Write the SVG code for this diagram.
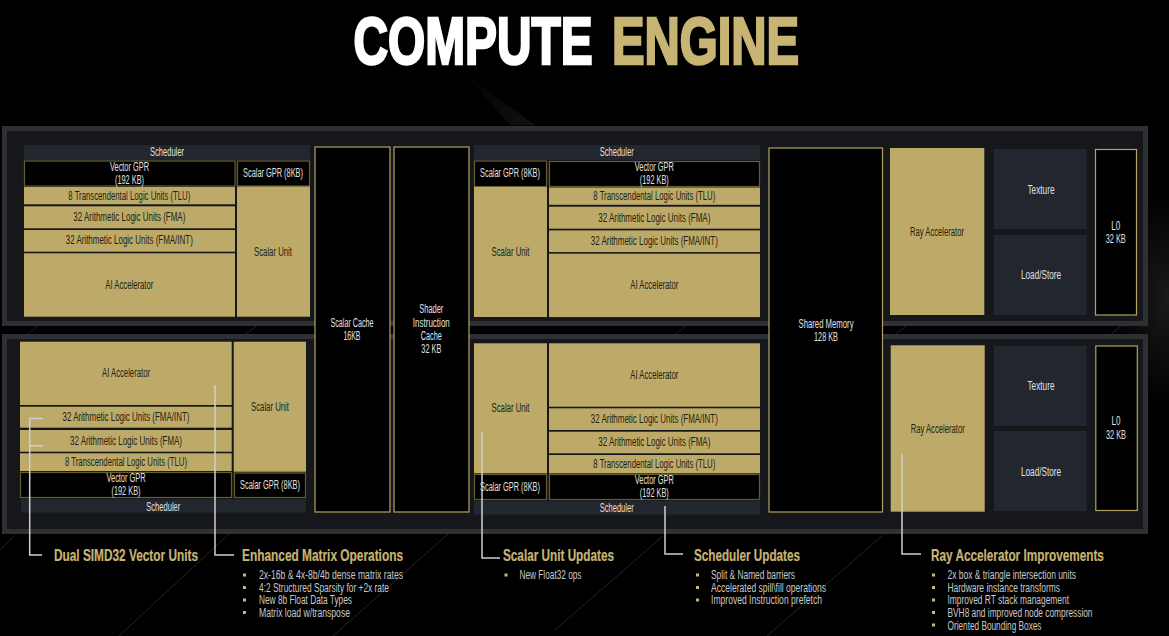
<svg xmlns="http://www.w3.org/2000/svg" width="1169" height="636" viewBox="0 0 1169 636">
<style>
text{font-family:"Liberation Sans Narrow","Liberation Sans",Roboto,sans-serif;font-size:12px;dominant-baseline:central;text-anchor:middle}
.panel{fill:#15171a;stroke:#2e3036;stroke-width:5}
.gold{fill:#bdaa69}
.gold+text,.dk{fill:#221f12}
.mem{fill:#000;stroke:#b3a263;stroke-width:1.2}
.gpr{fill:#000;stroke:#675c30;stroke-width:1.2}
.sch{fill:#22262e}
.lt{fill:#e0e0e0}
.head{font-size:16.500px;font-weight:700;fill:#c8b473;text-anchor:start;stroke:#c8b473;stroke-width:.2}
.li{font-size:12px;fill:#c9c9c9;text-anchor:start}
.bul{fill:#c8b473}
.title{font-size:66px;font-weight:700;text-anchor:start;stroke-width:2.6;stroke-linejoin:miter}
.st{fill:none;stroke:#242424;stroke-width:1}
.con{fill:none;stroke:#d0d0d0;stroke-width:1.5}
</style>
<defs>
<linearGradient id="wedge" x1="0" y1="0" x2="1" y2="1"><stop offset="0" stop-color="#000"/><stop offset="1" stop-color="#111"/></linearGradient>
<radialGradient id="glow"><stop offset="0" stop-color="#1a1a1a"/><stop offset="1" stop-color="#000"/></radialGradient>
</defs>
<rect width="1169" height="636" fill="#000"/>
<g id="background">
<path d="M464 73L510 125H535Z" fill="url(#wedge)"/>
<ellipse cx="1169" cy="300" rx="60" ry="110" fill="url(#glow)"/>
<path class="st" d="M38 326L28 334M256 326L246 334M686 326L676 334M906 326L896 334M1121 326L1111 334M15 535L0 550M230 533L119 636M448 534L333 636M663 536L555 630M883 535L767 636"/>
</g>
<g id="title">
<text class="title" transform="translate(353.500 41) scale(.8 1)" fill="#fff" stroke="#fff" textLength="299" lengthAdjust="spacingAndGlyphs">COMPUTE</text>
<text class="title" transform="translate(612 41) scale(.8 1)" fill="#c8b473" stroke="#c8b473" textLength="234" lengthAdjust="spacingAndGlyphs">ENGINE</text>
</g>
<g id="panels">
<rect id="panel-top" class="panel" x="4.500" y="128.500" width="1141" height="195"/>
<rect id="panel-bottom" class="panel" x="4.500" y="336.500" width="1141" height="195"/>
</g>
<g id="tl-scheduler"><rect class="sch" x="24" y="145" width="286" height="15"/><text class="lt" x="167" y="151.700" textLength="34" lengthAdjust="spacingAndGlyphs">Scheduler</text></g>
<g id="tl-vgpr"><rect class="gpr" x="24.500" y="161" width="210.500" height="25"/><text class="lt" x="129.500" y="166.700" textLength="39" lengthAdjust="spacingAndGlyphs">Vector GPR</text><text class="lt" x="129.500" y="180" textLength="29" lengthAdjust="spacingAndGlyphs">(192 KB)</text></g>
<g id="tl-sgpr"><rect class="gpr" x="237.500" y="161" width="72" height="25"/><text class="lt" x="273" y="173.300" textLength="60" lengthAdjust="spacingAndGlyphs">Scalar GPR (8KB)</text></g>
<g id="tl-tlu"><rect class="gold" x="24" y="187" width="211" height="17.300"/><text x="129.300" y="195.700" textLength="122" lengthAdjust="spacingAndGlyphs">8 Transcendental Logic Units (TLU)</text></g>
<g id="tl-fma"><rect class="gold" x="24" y="206.300" width="211" height="22"/><text x="129.300" y="217" textLength="112" lengthAdjust="spacingAndGlyphs">32 Arithmetic Logic Units (FMA)</text></g>
<g id="tl-int"><rect class="gold" x="24" y="230" width="211" height="21.700"/><text x="129.300" y="240.300" textLength="127" lengthAdjust="spacingAndGlyphs">32 Arithmetic Logic Units (FMA/INT)</text></g>
<g id="tl-ai"><rect class="gold" x="24" y="253.300" width="211" height="63.400"/><text x="129.300" y="285" textLength="48" lengthAdjust="spacingAndGlyphs">AI Accelerator</text></g>
<g id="tl-scalar"><rect class="gold" x="237" y="186.500" width="73" height="130.200"/><text x="273" y="252" textLength="38" lengthAdjust="spacingAndGlyphs">Scalar Unit</text></g>
<g id="scalar-cache"><rect class="mem" x="315" y="147" width="75" height="365"/><text class="lt" x="352" y="323" textLength="43" lengthAdjust="spacingAndGlyphs">Scalar Cache</text><text class="lt" x="352" y="336" textLength="17" lengthAdjust="spacingAndGlyphs">16KB</text></g>
<g id="shader-cache"><rect class="mem" x="394" y="147" width="75" height="365"/><text class="lt" x="431.300" y="309" textLength="24" lengthAdjust="spacingAndGlyphs">Shader</text><text class="lt" x="431.300" y="322.700" textLength="37" lengthAdjust="spacingAndGlyphs">Instruction</text><text class="lt" x="431.300" y="336" textLength="21" lengthAdjust="spacingAndGlyphs">Cache</text><text class="lt" x="431.300" y="349" textLength="20" lengthAdjust="spacingAndGlyphs">32 KB</text></g>
<g id="tm-scheduler"><rect class="sch" x="474" y="145" width="286" height="15"/><text class="lt" x="616.700" y="152" textLength="34" lengthAdjust="spacingAndGlyphs">Scheduler</text></g>
<g id="tm-sgpr"><rect class="gpr" x="474.500" y="161" width="72" height="25.500"/><text class="lt" x="510" y="173.300" textLength="60" lengthAdjust="spacingAndGlyphs">Scalar GPR (8KB)</text></g>
<g id="tm-vgpr"><rect class="gpr" x="549.500" y="161.500" width="210" height="25"/><text class="lt" x="654.300" y="167" textLength="39" lengthAdjust="spacingAndGlyphs">Vector GPR</text><text class="lt" x="654.300" y="180.300" textLength="29" lengthAdjust="spacingAndGlyphs">(192 KB)</text></g>
<g id="tm-tlu"><rect class="gold" x="549" y="187.500" width="211" height="17.300"/><text x="654.300" y="196" textLength="122" lengthAdjust="spacingAndGlyphs">8 Transcendental Logic Units (TLU)</text></g>
<g id="tm-fma"><rect class="gold" x="549" y="206.700" width="211" height="22"/><text x="654.300" y="217.700" textLength="112" lengthAdjust="spacingAndGlyphs">32 Arithmetic Logic Units (FMA)</text></g>
<g id="tm-int"><rect class="gold" x="549" y="230.400" width="211" height="21.700"/><text x="654.300" y="241" textLength="127" lengthAdjust="spacingAndGlyphs">32 Arithmetic Logic Units (FMA/INT)</text></g>
<g id="tm-ai"><rect class="gold" x="549" y="253.700" width="211" height="63.400"/><text x="654.300" y="285.300" textLength="48" lengthAdjust="spacingAndGlyphs">AI Accelerator</text></g>
<g id="tm-scalar"><rect class="gold" x="474" y="187" width="73" height="130"/><text x="510.500" y="252" textLength="38" lengthAdjust="spacingAndGlyphs">Scalar Unit</text></g>
<g id="shared-memory"><rect class="mem" x="769" y="148" width="113.500" height="364"/><text class="lt" x="826" y="323.500" textLength="55" lengthAdjust="spacingAndGlyphs">Shared Memory</text><text class="lt" x="826" y="336.700" textLength="24" lengthAdjust="spacingAndGlyphs">128 KB</text></g>
<g id="t-ray"><rect class="gold" x="890" y="148" width="94.300" height="167"/><text x="937" y="231.700" textLength="54" lengthAdjust="spacingAndGlyphs">Ray Accelerator</text></g>
<g id="t-texture"><rect class="sch" x="994" y="149" width="92.700" height="80"/><text class="lt" x="1041" y="189.500" textLength="27" lengthAdjust="spacingAndGlyphs">Texture</text></g>
<g id="t-load"><rect class="sch" x="994" y="235" width="92.700" height="80"/><text class="lt" x="1041" y="274.700" textLength="40" lengthAdjust="spacingAndGlyphs">Load/Store</text></g>
<g id="t-l0"><rect class="mem" x="1095.500" y="149.500" width="41" height="165.500"/><text class="lt" x="1115.700" y="225.700" textLength="9" lengthAdjust="spacingAndGlyphs">L0</text><text class="lt" x="1115.700" y="239" textLength="20" lengthAdjust="spacingAndGlyphs">32 KB</text></g>
<g id="bl-ai"><rect class="gold" x="20" y="341.700" width="211.700" height="63.300"/><text x="126" y="373" textLength="48" lengthAdjust="spacingAndGlyphs">AI Accelerator</text></g>
<g id="bl-int"><rect class="gold" x="20" y="406.700" width="211.700" height="21"/><text x="126" y="417.300" textLength="127" lengthAdjust="spacingAndGlyphs">32 Arithmetic Logic Units (FMA/INT)</text></g>
<g id="bl-fma"><rect class="gold" x="20" y="430" width="211.700" height="21.700"/><text x="126" y="440.700" textLength="112" lengthAdjust="spacingAndGlyphs">32 Arithmetic Logic Units (FMA)</text></g>
<g id="bl-tlu"><rect class="gold" x="20" y="453.300" width="211.700" height="17.700"/><text x="126" y="462.300" textLength="122" lengthAdjust="spacingAndGlyphs">8 Transcendental Logic Units (TLU)</text></g>
<g id="bl-vgpr"><rect class="gpr" x="20.500" y="472.500" width="211" height="25"/><text class="lt" x="126" y="478" textLength="39" lengthAdjust="spacingAndGlyphs">Vector GPR</text><text class="lt" x="126" y="491.300" textLength="29" lengthAdjust="spacingAndGlyphs">(192 KB)</text></g>
<g id="bl-scalar"><rect class="gold" x="233.700" y="341.700" width="72.300" height="130"/><text x="270" y="406.700" textLength="38" lengthAdjust="spacingAndGlyphs">Scalar Unit</text></g>
<g id="bl-sgpr"><rect class="gpr" x="234.500" y="473" width="71" height="24.500"/><text class="lt" x="270" y="485" textLength="60" lengthAdjust="spacingAndGlyphs">Scalar GPR (8KB)</text></g>
<g id="bl-scheduler"><rect class="sch" x="21" y="499.300" width="285" height="13.400"/><text class="lt" x="163.300" y="506.700" textLength="34" lengthAdjust="spacingAndGlyphs">Scheduler</text></g>
<g id="bm-scalar"><rect class="gold" x="474" y="343.300" width="73" height="130"/><text x="510.500" y="408.300" textLength="38" lengthAdjust="spacingAndGlyphs">Scalar Unit</text></g>
<g id="bm-ai"><rect class="gold" x="549" y="343.300" width="211" height="63.400"/><text x="654.300" y="375" textLength="48" lengthAdjust="spacingAndGlyphs">AI Accelerator</text></g>
<g id="bm-int"><rect class="gold" x="549" y="408.300" width="211" height="21.700"/><text x="654.300" y="419" textLength="127" lengthAdjust="spacingAndGlyphs">32 Arithmetic Logic Units (FMA/INT)</text></g>
<g id="bm-fma"><rect class="gold" x="549" y="431.700" width="211" height="21.600"/><text x="654.300" y="442.300" textLength="112" lengthAdjust="spacingAndGlyphs">32 Arithmetic Logic Units (FMA)</text></g>
<g id="bm-tlu"><rect class="gold" x="549" y="455" width="211" height="18.300"/><text x="654.300" y="464" textLength="122" lengthAdjust="spacingAndGlyphs">8 Transcendental Logic Units (TLU)</text></g>
<g id="bm-sgpr"><rect class="gpr" x="474.500" y="474.500" width="72" height="25"/><text class="lt" x="510" y="486.700" textLength="60" lengthAdjust="spacingAndGlyphs">Scalar GPR (8KB)</text></g>
<g id="bm-vgpr"><rect class="gpr" x="549.500" y="474.500" width="210" height="25"/><text class="lt" x="654.300" y="480" textLength="39" lengthAdjust="spacingAndGlyphs">Vector GPR</text><text class="lt" x="654.300" y="493.300" textLength="29" lengthAdjust="spacingAndGlyphs">(192 KB)</text></g>
<g id="bm-scheduler"><rect class="sch" x="474" y="501" width="286" height="13.700"/><text class="lt" x="616.700" y="508" textLength="34" lengthAdjust="spacingAndGlyphs">Scheduler</text></g>
<g id="b-ray"><rect class="gold" x="890.700" y="345.300" width="94" height="166.400"/><text x="937.700" y="429" textLength="54" lengthAdjust="spacingAndGlyphs">Ray Accelerator</text></g>
<g id="b-texture"><rect class="sch" x="994" y="346" width="92.700" height="80"/><text class="lt" x="1041" y="386" textLength="27" lengthAdjust="spacingAndGlyphs">Texture</text></g>
<g id="b-load"><rect class="sch" x="994" y="431" width="92.700" height="80"/><text class="lt" x="1041" y="471.700" textLength="40" lengthAdjust="spacingAndGlyphs">Load/Store</text></g>
<g id="b-l0"><rect class="mem" x="1095.800" y="346" width="41.500" height="164.500"/><text class="lt" x="1116" y="421.300" textLength="9" lengthAdjust="spacingAndGlyphs">L0</text><text class="lt" x="1116" y="434.700" textLength="20" lengthAdjust="spacingAndGlyphs">32 KB</text></g>
<g id="connectors">
<path class="con" d="M43 418.500H29.700V555H42M29.700 445.700H43"/>
<path class="con" d="M215 385V555H234"/>
<path class="con" d="M482 431.700V558H500"/>
<path class="con" d="M665 506V554H683"/>
<path class="con" d="M902 454V554H921"/>
</g>
<g id="callout-simd"><text class="head" x="54" y="555" textLength="144" lengthAdjust="spacingAndGlyphs">Dual SIMD32 Vector Units</text></g>
<g id="callout-matrix"><text class="head" x="242" y="555" textLength="161" lengthAdjust="spacingAndGlyphs">Enhanced Matrix Operations</text>
<rect class="bul" x="243" y="573.500" width="3" height="3"/><rect class="bul" x="243" y="586" width="3" height="3"/><rect class="bul" x="243" y="598.500" width="3" height="3"/><rect class="bul" x="243" y="611" width="3" height="3"/>
<text class="li" x="259" y="575" textLength="144" lengthAdjust="spacingAndGlyphs">2x-16b &amp; 4x-8b/4b dense matrix rates</text>
<text class="li" x="259" y="587.500" textLength="130" lengthAdjust="spacingAndGlyphs">4:2 Structured Sparsity for +2x rate</text>
<text class="li" x="259" y="600" textLength="93" lengthAdjust="spacingAndGlyphs">New 8b Float Data Types</text>
<text class="li" x="259" y="613" textLength="91" lengthAdjust="spacingAndGlyphs">Matrix load w/transpose</text></g>
<g id="callout-scalar"><text class="head" x="503" y="555" textLength="111" lengthAdjust="spacingAndGlyphs">Scalar Unit Updates</text>
<rect class="bul" x="504.500" y="573.500" width="3" height="3"/>
<text class="li" x="519.500" y="575" textLength="62" lengthAdjust="spacingAndGlyphs">New Float32 ops</text></g>
<g id="callout-scheduler"><text class="head" x="694" y="555" textLength="106" lengthAdjust="spacingAndGlyphs">Scheduler Updates</text>
<rect class="bul" x="696" y="573.500" width="3" height="3"/><rect class="bul" x="696" y="586" width="3" height="3"/><rect class="bul" x="696" y="598.500" width="3" height="3"/>
<text class="li" x="711" y="575" textLength="84" lengthAdjust="spacingAndGlyphs">Split &amp; Named barriers</text>
<text class="li" x="711" y="587.500" textLength="115" lengthAdjust="spacingAndGlyphs">Accelerated spill\fill operations</text>
<text class="li" x="711" y="600" textLength="111" lengthAdjust="spacingAndGlyphs">Improved Instruction prefetch</text></g>
<g id="callout-ray"><text class="head" transform="translate(931 555) scale(.7 1)" textLength="247" lengthAdjust="spacingAndGlyphs">Ray Accelerator Improvements</text>
<rect class="bul" x="932" y="573.500" width="3" height="3"/><rect class="bul" x="932" y="586" width="3" height="3"/><rect class="bul" x="932" y="598.500" width="3" height="3"/><rect class="bul" x="932" y="611" width="3" height="3"/><rect class="bul" x="932" y="623.500" width="3" height="3"/>
<text class="li" x="947.500" y="575" textLength="128.500" lengthAdjust="spacingAndGlyphs">2x box &amp; triangle intersection units</text>
<text class="li" x="947.500" y="587.500" textLength="112.500" lengthAdjust="spacingAndGlyphs">Hardware instance transforms</text>
<text class="li" x="947.500" y="600" textLength="121.500" lengthAdjust="spacingAndGlyphs">Improved RT stack management</text>
<text class="li" x="947.500" y="613" textLength="145" lengthAdjust="spacingAndGlyphs">BVH8 and improved node compression</text>
<text class="li" x="947.500" y="625.500" textLength="94" lengthAdjust="spacingAndGlyphs">Oriented Bounding Boxes</text></g>
</svg>
